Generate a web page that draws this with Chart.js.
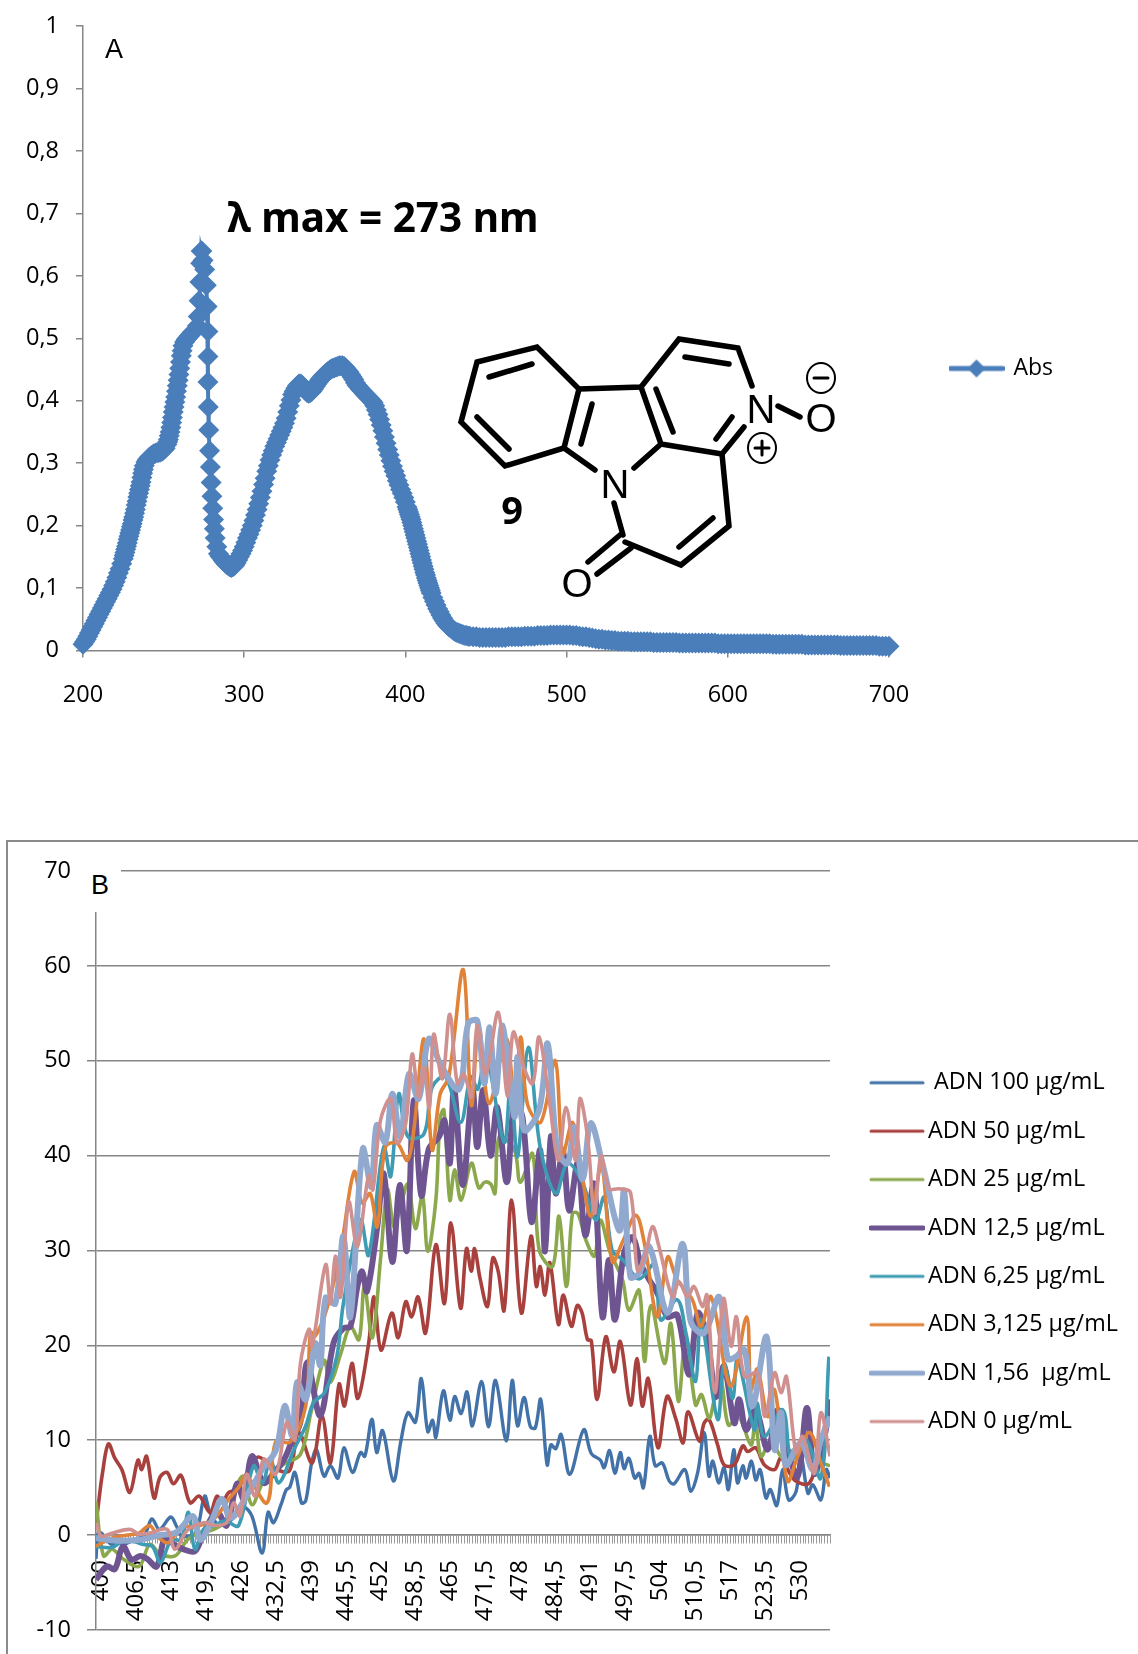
<!DOCTYPE html>
<html>
<head>
<meta charset="utf-8">
<title>Abs / ADN</title>
<script src="https://cdn.jsdelivr.net/npm/chart.js@4"></script>
<style>
  html, body { margin: 0; padding: 0; background: #fff; }
  body { position: relative; width: 1138px; height: 1654px; overflow: hidden; font-family: "Open Sans", sans-serif; }
  canvas { position: absolute; left: 0; }
  #chartA { top: -5.5px; }
  #chartB { top: 790px; }
  #frameB { position: absolute; left: 6px; top: 840px; width: 1200px; height: 900px; border-left: 2px solid #8a8a8a; border-top: 2px solid #8a8a8a; }
  #labelA { position: absolute; left: 105px; top: 34px; font: 27px "Liberation Sans", sans-serif; }
  #labelB { position: absolute; left: 80px; top: 858px; width: 41px; height: 54px; background: #fff; font: 27px "Liberation Sans", sans-serif; line-height: 54px; text-indent: 11px; }
  #molecule { position: absolute; left: 0; top: 0; }
</style>
</head>
<body>
<div id="frameB"></div>
<canvas id="chartA" width="1138" height="790"></canvas>
<canvas id="chartB" width="1138" height="870"></canvas>
<div id="labelA">A</div>
<div id="labelB">B</div>

<svg id="molecule" width="1138" height="790">
  <text x="383" y="232" text-anchor="middle" font-family="Noto Sans" font-weight="700" font-size="40.5">λ max = 273 nm</text>
  <g fill="none" stroke="#000" stroke-width="5.5" stroke-linecap="round" stroke-linejoin="miter">
    <polygon points="477,362 537,347 579,389 564,448 505,466 461,422"/>
    <path d="M489 377L532 364M477 417L509 449M592 404L581 444"/>
    <path d="M579 389L641 387L679 339L738 348L752 386"/>
    <path d="M641 387L661 444L722 454L744 427M656 389L673 432M716 439L732 417M685 357L729 364"/>
    <path d="M564 448L595 470M661 444L634 468M614 503L623 535"/>
    <path d="M722 454L729 526L681 565L625 542M679 547L713 518"/>
    <path d="M620 535L588 562M631 548L597 574M778 406L800 417"/>
    <ellipse cx="821" cy="378" rx="14" ry="15" stroke-width="2"/>
    <ellipse cx="762" cy="448" rx="14" ry="15" stroke-width="2"/>
    <path d="M814 378H828M755 448H769M762 441V455" stroke-width="3"/>
  </g>
  <g font-family="Liberation Sans" font-size="40" text-anchor="middle">
    <text x="615" y="498">N</text>
    <text x="761" y="423">N</text>
    <text x="577" y="597">O</text>
    <text x="821" y="432">O</text>
  </g>
  <text x="512" y="524" text-anchor="middle" font-family="Noto Sans" font-weight="700" font-size="38">9</text>
</svg>

<script>
/* ===== panel A values ===== */
const absNm = [
200,201,202,203,204,205,206,207,208,209,210,211,212,213,214,215,216,217,218,219,220,221,222,223,224,
225,225.5,226,226.5,227,227.5,228,228.5,229,229.5,230,230.5,231,231.5,232,232.5,233,233.5,234,234.5,235,235.5,236,236.5,237,237.5,238,
239,240,241,242,243,244,245,246,247,248,249,250,251,
252,252.5,253,253.5,254,254.5,255,255.5,256,256.5,257,257.5,258,258.5,259,259.5,260,260.5,261,261.5,262,
263,264,265,266,267,268,269,270,271,271.5,272,272.5,273,273.3,273.7,274.5,275.5,276.5,277,277.5,277.5,277.5,277.7,278,278.5,279,279.5,280,280.5,281,281.5,282,283,284,285,286,287,288,289,290,291,
292,293,294,295,296,297,298,299,300,301,302,303,304,305,306,307,308,309,310,311,312,313,314,315,316,317,318,319,320,321,322,323,324,325,326,327,328,329,330,331,332,333,334,335,336,337,338,339,340,341,342,343,344,345,346,347,348,349,350,351,352,353,354,355,356,357,358,359,360,361,362,363,364,365,366,367,368,369,370,371,372,373,374,375,376,377,378,379,380,381,382,383,384,385,386,387,388,389,390,391,392,393,394,395,396,397,398,399,400,
401,401.5,402,402.5,403,403.5,404,404.5,405,405.5,406,406.5,407,407.5,408,408.5,409,409.5,410,410.5,411,411.5,412,412.5,413,413.5,414,414.5,415,415.5,416,
417,418,419,420,421,422,423,424,425,426,427,428,429,430,431,432,433,434,435,436,437,438,439,440,
442,444,446,448,450,452,454,456,458,460,462,464,466,468,470,472,474,476,478,480,482,484,486,488,490,492,494,496,498,500,502,504,506,508,510,512,514,516,518,520,522,524,526,528,530,532,534,536,538,540,
542,544,546,548,550,552,554,556,558,560,562,564,566,568,570,572,574,576,578,580,582,584,586,588,590,592,594,596,598,600,
602,604,606,608,610,612,614,616,618,620,622,624,626,628,630,632,634,636,638,640,642,644,646,648,650,652,654,656,658,660,
662,664,666,668,670,672,674,676,678,680,682,684,686,688,690,692,694,696,698,700];
const absVal = [
.010,.014,.018,.023,.028,.033,.038,.043,.048,.053,.058,.063,.068,.073,.078,.083,.088,.093,.098,.104,.110,.117,.124,.131,.139,
.147,.152,.157,.162,.167,.172,.178,.183,.188,.193,.198,.203,.209,.214,.220,.226,.233,.239,.246,.252,.258,.264,.270,.277,.284,.290,.296,
.302,.306,.309,.311,.313,.315,.316,.317,.317,.318,.319,.321,.324,
.330,.334,.338,.344,.350,.357,.365,.373,.382,.390,.398,.406,.415,.424,.433,.442,.452,.462,.472,.480,.488,
.494,.498,.501,.504,.507,.510,.512,.514,.520,.535,.560,.590,.620,.640,.640,.625,.610,.585,.551,.511,.471,.430,.390,.353,.320,.294,.269,.247,.228,.210,.195,.180,.166,.155,.151,.148,.144,.141,.138,.136,.134,
.133,.134,.136,.140,.145,.150,.155,.160,.166,.173,.180,.186,.193,.200,.208,.217,.226,.235,.245,.255,.266,.276,.287,.296,.305,.313,.320,.327,.333,.339,.345,.351,.357,.364,.372,.382,.392,.401,.410,.415,.420,.424,.427,.427,.425,.420,.416,.413,.412,.413,.415,.419,.423,.427,.430,.434,.437,.440,.442,.445,.447,.449,.451,.452,.453,.454,.455,.456,.456,.456,.455,.452,.449,.446,.442,.438,.434,.429,.425,.422,.419,.416,.413,.410,.408,.405,.403,.400,.397,.392,.385,.378,.370,.361,.352,.342,.332,.322,.313,.304,.295,.287,.280,.272,.265,.258,.252,.245,.238,
.230,.226,.222,.218,.214,.210,.205,.200,.195,.190,.185,.180,.175,.170,.165,.160,.155,.150,.145,.140,.135,.130,.125,.121,.116,.112,.108,.104,.100,.096,.092,
.085,.079,.073,.067,.062,.057,.052,.048,.044,.041,.038,.036,.034,.032,.030,.029,.028,.027,.026,.025,.024,.024,.023,.023,
.022,.022,.021,.021,.021,.021,.021,.021,.021,.021,.021,.022,.022,.022,.022,.022,.023,.023,.023,.023,.024,.024,.024,.024,.025,.025,.025,.025,.025,.025,.025,.024,.024,.023,.022,.022,.021,.020,.019,.018,.018,.017,.017,.016,.016,.015,.015,.015,.015,.014,
.014,.014,.014,.014,.014,.014,.013,.013,.013,.013,.013,.013,.013,.013,.012,.012,.012,.012,.012,.012,.012,.012,.012,.012,.012,.012,.011,.011,.011,.011,
.011,.011,.011,.011,.011,.011,.011,.011,.011,.011,.011,.011,.011,.010,.010,.010,.010,.010,.010,.010,.010,.010,.010,.009,.009,.009,.009,.009,.009,.009,
.009,.009,.009,.009,.008,.008,.008,.008,.008,.008,.008,.008,.008,.008,.008,.008,.007,.007,.007,.007];
const absXTicks = ['200','300','400','500','600','700'];
const absYTicks = ['0','0,1','0,2','0,3','0,4','0,5','0,6','0,7','0,8','0,9','1'];

/* ===== panel B values ===== */
const adnTickLabels = ['400','406,5','413','419,5','426','432,5','439','445,5','452','458,5','465','471,5','478','484,5','491','497,5','504','510,5','517','523,5','530'];
const adnYTicks = ['-10','0','10','20','30','40','50','60','70'];
const adnNames = [' ADN 100 µg/mL','ADN 50 µg/mL','ADN 25 µg/mL','ADN 12,5 µg/mL','ADN 6,25 µg/mL','ADN 3,125 µg/mL','ADN 1,56  µg/mL','ADN 0 µg/mL'];

const adn100Nm = [400,400.4,401,402,403,404,405,407,409,410.4,411.8,413.9,415,416,418.5,420.2,421.2,423,425.6,427.5,429,430.9,432,433,434.4,435.4,436,437,438.2,439,440.1,441,442.4,443.6,445,446.1,447.7,449.2,450,451.3,452.2,453.3,455.3,456.7,458,459.4,460.5,461.7,462.6,463.2,464.6,465.8,466.7,467.9,469,470,471.7,473,474.3,476.3,477.4,478.4,479.6,480.8,481.7,482.7,483.9,484.6,485.5,486.5,488.1,490.7,492.1,493.8,494.5,495.5,496.5,497.5,498.2,499.1,500.2,501,501.8,503,504,505.3,506.6,507.5,509.5,510.6,511.9,513.1,514,514.7,515.8,516.8,517.6,518.6,519.3,520.3,520.9,521.9,522.7,523.5,524.6,525.4,526.6,527.7,528.8,530.2,531.1,532.4,533.3,534.8,535.8,536.5];
const adn100 = [-2.5,.2,.2,-.5,-1,-.5,-1,-.5,0,1.7,.6,1.9,.9,-.1,.2,4.1,2.4,1,1.8,2.9,2,-1.9,2.4,1.3,3.2,4.8,5,6.6,3.4,3.6,7.6,9,6.2,7.3,6,9.2,6.6,8.7,8.3,12.2,8.7,11,5.7,9.9,12.9,11.9,16.5,10.9,12.1,10.3,15.2,12.1,14.6,12.8,15.1,11.5,16.2,11.4,16.3,9.9,16.3,11.5,14.5,11.4,11.3,14.3,7.4,9.5,9.1,10.6,6.4,11.1,8.6,7.9,7.1,8.9,6.5,8.7,7,8.1,6,6.5,5,10.4,7.3,7.6,5.7,5.4,6.9,4.6,6.6,10.8,6.2,7.8,5.5,7.1,4.8,9,5.5,7.3,6,7.8,5.8,6.9,3.9,4.8,3.1,6.9,3.7,4.6,8.3,4.4,5.3,3.7,6.9,6];

const adn50Nm = [400,400.4,401.2,402.3,403.5,404.8,406.3,407.8,408.5,409.4,410.8,411.9,413.2,414.4,415.8,417.5,419.2,421.2,422.5,423.4,424.7,426.2,428,430,432,434,436,437.7,440.2,442,443.6,445.2,446.2,447.6,448.7,450.7,451.7,453,455,456.2,457.6,458.7,459.9,461.3,463.2,464.8,466,467.8,468.9,469.8,470.4,471.4,472.8,473.8,474.8,475.9,477.3,479.1,480.9,481.9,482.6,483.5,484.4,486,486.9,488.4,489.5,490.4,491.4,492.1,493.2,494.8,496.3,497.5,499.4,500.6,501.6,502.7,504.5,506.2,507.8,509.2,510.1,512.2,513.1,514,515.6,516.8,518.7,520.3,521.2,522.7,524.3,526.2,527.4,529.9,532.7,534.8,536.5];
const adn50 = [1,3,6.5,9.6,8.1,6.9,4.5,7.9,6.9,8.3,3.9,6.1,6.6,5.4,6.3,3.4,4.1,2.4,4.1,3.4,4.5,4.8,6.5,8.2,7.6,6.8,6.8,10.8,7.6,12.6,7.6,15.9,13.6,18.1,14.4,20.2,25.1,19.5,23.4,20.8,24.6,23,25.1,21.3,30.6,24.4,32.9,23.9,30.2,27.8,30.2,27.1,24.1,29.2,27.8,23.7,35.3,23.4,31.5,26.2,28.3,25.3,28.7,22.2,25.3,22,24.2,23.4,20.6,20.5,14.3,20.9,17.2,20.4,13.7,18.6,13.6,16.5,9.2,14.6,12.3,9.7,13,9.9,11.8,12.2,9.5,7.4,7.4,9.4,8.8,9.2,7.4,6.9,8.1,5.8,5.5,9.7,14.3];

const adn25Nm = [400,401.4,403,405,408,410,412,414.7,417,419,421.9,424,427.2,429,431,433,435,438,440,442.4,443.6,445.5,447.3,448.9,449.9,451.4,452.9,454.2,455.4,456.5,458,459.4,460.7,461.7,463.2,464,464.7,465.8,466.7,467.9,469.8,471.2,472.3,473.4,474.2,475,477.8,478.9,481.2,482.4,484.9,486.1,487.5,488.6,489.6,491.1,492.7,493.8,495.5,497.9,499.1,501,502,503.2,505.7,506.9,508.3,509.7,511.5,512.6,514,515,516.2,517.6,519.5,521.8,522.6,523.7,525.5,527.7,530,533,536.5];
const adn25 = [3.5,-2.2,-1.5,-2.5,-3.3,-1,-2,-2.2,-.5,.2,.6,1.5,6.2,3.2,5.5,6.5,7.5,8.5,13,18.4,16.1,19.1,22,20.6,26.2,20.8,29,36.4,32.5,34.3,37,32.3,35.8,29.9,35.3,44,44.8,35.3,38.5,35.3,39.2,36.6,37.2,37,36,42,40.6,37.2,40.2,30.1,28.3,33.6,26.2,33.9,33.9,31.1,29.4,33.2,30,26.9,23.7,25.8,18.3,24.2,18.1,22.3,14.1,20.9,13.7,14.8,12.3,14.3,16.5,11.6,12.5,9.5,12,8.3,10,8.1,9,8,7.3];

const adn12Nm = [400,402,403.5,405,406.6,408.2,409.5,411.3,412.9,414.5,416.3,418.4,420,422.5,424.3,426.2,427.5,429,431.2,433,435,436.5,438,439.3,441.7,444.2,446,447.3,448.6,449.5,450.4,452.3,453.5,455.1,456.5,457.8,459.1,460.5,461.9,463.8,464.8,465.8,466.6,468.2,470,470.9,472,473.4,474.6,476.4,477.8,479.3,481,482.6,483.5,484.6,485.5,486.8,488,489.6,491,492.6,494.2,495.4,496.5,498.2,499.8,501.3,502.9,504.4,506.3,508.1,510.3,511.9,513.7,515.3,516.8,518.7,519.6,520.9,522.7,524.9,526.8,528.6,530.5,532.2,533.6,535,536.5];
const adn12 = [-4.7,-3.3,-3.6,-1.2,-2.6,-2.2,-2.5,-3.3,-.1,-1,-1.5,-1.7,.2,2.4,1,5.4,3.8,8.3,5.5,6.5,8,10,11.9,18.2,12.6,20.3,21.8,22,26.2,27.8,25.7,32.5,38.1,28.8,36.9,30,45.8,35.8,40.7,42,43.7,39.2,47.2,36.9,46.9,40.9,46.9,40,45.1,37.2,45.5,44.1,33,40.6,29.9,42,36,40.6,34.2,39.2,31.6,37,23,29,22.7,29.7,31.4,28.6,26.9,25.5,23,23.2,16.9,23.4,20.6,14.6,17.8,11.8,14.3,11.1,13.2,9,13.2,9,6.2,13.4,6.5,9,13.7];

const adn6Nm = [400,403,405.5,408.8,410.5,412,414,415.8,417.2,418.4,420,422,424,426.5,429.3,431,432.4,434,436.8,439,440.5,442.5,444.8,446,449.2,450.7,453.5,454.8,456.3,458,461,462.5,465,467.8,469.7,471,472.5,475.9,477.1,478.4,480.4,482.6,485.5,487.7,490.5,492.9,494.5,496,498,501,504,505,508.1,509.7,511.5,512.5,515.6,516.8,518.4,519.3,522.4,523,524.3,527.7,529.3,532,534.8,536.3];
const adn6 = [-1.2,-1.3,-.5,-1,-1.2,-2.9,-.5,-.5,2.4,-1.5,.6,1,1.5,1,7.3,5.5,8,5.5,9,11.5,14,15,18.9,24.4,33.2,29.5,40.9,37.8,46.5,42,42.3,47.2,48.3,43.5,48.3,47,50.7,41.4,47.6,39.9,51.4,40.9,36,39.2,37.1,33.2,35.6,30,29,27,28.6,22.7,24.8,21.3,16.2,22.7,12.2,18.1,14.4,18.5,11.1,13.9,10.4,13.2,8,10.1,6,18.8];

const adn3Nm = [400,403,406,408,410,411.5,413.5,416,418,421.9,424.7,426.5,428,431.8,433.4,436.1,439,439.9,440.8,443,445.5,448,449.5,451,452.3,453.8,456,457.9,459.1,461,462.5,464,465.6,468.3,469.8,471.2,473.1,476.3,477.8,479,480.2,482.7,485.4,486.8,488.6,490,492,494,496,498,500.4,502,504.4,506.3,508,510.9,512.5,514.4,518,521,521.8,523,524.9,526.2,528.6,530.5,532.7,534.8,536.4];
const adn3 = [-1.2,-.3,0,.2,1,-.2,-.8,1,.8,1.7,3.8,5,6.2,3.4,9.8,9.8,13.6,21.4,21,24,30,38.3,35,36,32.5,40.9,41.3,39.5,42.7,52.3,40.6,46.5,48.3,59.6,45.3,53.5,45.5,52.3,46,52.5,45.5,43.5,50,40.2,43.5,39.5,33.6,39,28.8,31,33.7,30.7,23,29.3,27,24.8,22,25.1,15.7,23,15.3,17.5,12.5,15.3,5.7,8.3,10.8,7.6,5.1];

const adn156Nm = [400,404,408,412,415,418,419.4,421.5,423.4,425,428.4,431,433.5,435.1,436.5,437.4,439,440.8,441.7,442.7,444.5,446,447.3,449.6,451.2,452.2,453.8,455.1,456.6,458.2,460,461.9,464,467.5,469.2,470.9,472.2,473.2,474.3,475.6,477.8,478.4,479.6,482.4,484,485.8,487.7,488.9,490.5,492,494.2,497.3,498.2,499.4,501,502.9,506.3,509.1,510.6,513.1,515.9,517.5,519,520.6,522.1,524.7,526.2,527.4,528.3,531.1,533.3,534.8,536.5];
const adn156 = [-.3,-.6,-.5,0,.3,2,-.5,1.5,3.8,1.8,4.5,7,9,13.6,10.5,16.1,14.3,20.2,17.9,25,24.4,31.5,23,40.7,36.7,43.2,41.4,46.5,42,48.6,46,52.3,49.7,47,53.9,54.2,47.6,53.5,46.5,53.7,44.1,50.4,42.7,44.8,51.8,40.6,39.2,43,37.5,43.4,39.1,32.1,36.3,27.2,27.6,30.4,23.4,30.7,22.5,21.3,25.1,18.6,18.8,19.5,13.6,20.9,9,12.9,7.4,9.7,6.9,10,12.5];

const adn0Nm = [400,401,403,406.3,408,410,413.2,414.7,417,420,422,424.3,425.6,426.8,428,429.6,431.2,433.4,435.5,437,438,439.6,440.2,442.7,443.6,444.5,445.5,447,448.6,450.7,451.5,452.9,454.8,456,457.6,458.8,460,461,462,462.8,464.4,465.8,467.2,468.4,469.8,470.9,472.5,474.8,476.5,477.6,479.3,481.2,482.4,484.3,486,487.4,489.2,490,491.4,492.7,493.9,495.4,497.3,499.4,500.7,502.2,503.5,504.7,507.2,508.4,510,511.2,512.8,513.6,515.1,516.7,518.1,519.1,520.6,523,524.4,526.2,527.4,528.4,530.2,531.4,533.6,534.8,536.5];
const adn0 = [1.3,-.1,.2,.6,.1,.2,.6,-1.5,.5,1.3,1,1.3,3.4,2,6.4,4.1,8,6.4,11.9,10,18,21.7,19.9,28.5,24.4,29.4,25.1,35.1,30.4,37.9,36.4,43.7,46,41.3,43.4,50.7,46.2,49.3,45,52.8,48.1,54.9,47.6,48.6,46.2,53.7,48.6,55.1,46.3,53,49.7,47.6,52.5,45.8,39.5,45.1,39.5,46,42,33.9,40,36.5,36.5,36.1,27.9,29.7,32.5,30.4,25.1,26.7,25.1,26.2,24.1,25.3,15,24.9,19.9,23,16.7,17.1,12.5,17.1,15,16.7,8.7,10.4,6.5,12.9,8.3];

const adnColors = ['#4272A8','#A8403D','#8BA84C','#6E5490','#3D9BB3','#E08238','#92A9CF','#CF908F'];
const adnWidths = [3.4,3.6,3.6,6,3.6,3.6,6,3.6];
const adnLegendWidths = [3,3,3,5,3,3,5,3];

/* ===== helpers ===== */
const pairs = (xs, ys) => xs.map((x, i) => ({x: x, y: ys[i]}));

// legend swatch: line with an optional diamond in the middle
function swatch(color, lineWidth, diamond){
    const c = document.createElement('canvas');
    c.width = 56; c.height = 24;
    const g = c.getContext('2d');
    g.strokeStyle = color; g.fillStyle = color; g.lineWidth = lineWidth; g.lineCap = 'round';
    g.beginPath(); g.moveTo(2, 12); g.lineTo(54, 12); g.stroke();
    if(diamond){
        g.beginPath(); g.moveTo(28, 3); g.lineTo(37, 12); g.lineTo(28, 21); g.lineTo(19, 12); g.closePath(); g.fill();
    }
    return c;
}

// fixes the legend width and moves it to where the reference has it
const legendPlace = {
    id: 'legendPlace',
    beforeLayout(chart, args, opts){
        const legend = chart.legend;
        if(!legend._fixed){
            const fit = legend.fit;
            legend.fit = function(){ fit.call(this); this.width = opts.width; };
            legend._fixed = true;
        }
    },
    afterLayout(chart, args, opts){
        chart.legend.left = opts.left;
        chart.legend.top = opts.top;
    }
};

const axisGrey = '#868686';
const tickFont = {family: '"Open Sans"', size: 23.5};

/* ===== panel A ===== */
new Chart(document.getElementById('chartA'), {
    type: 'scatter',
    plugins: [legendPlace],
    data: {
        datasets: [{
            label: 'Abs',
            data: pairs(absNm, absVal),
            showLine: true,
            clip: false,
            borderColor: '#4A7EBB',
            backgroundColor: '#4A7EBB',
            borderWidth: 4,
            pointStyle: 'rectRot',
            pointRadius: 10.5,
            pointBorderWidth: 0,
            tension: 0
        }]
    },
    options: {
        responsive: false,
        animation: false,
        layout: {padding: {top: 24, left: 0, right: 0, bottom: 0}},
        scales: {
            x: {
                type: 'linear', min: 200, max: 700,
                afterFit: s => { s.height = 134.5; },
                border: {color: axisGrey, width: 1.5},
                grid: {drawOnChartArea: false, color: axisGrey, tickLength: 7, lineWidth: 1.5},
                ticks: {stepSize: 100, padding: 24, color: '#000', font: tickFont, maxRotation: 0, callback: (v, i) => absXTicks[i]}
            },
            y: {
                min: 0, max: 1,
                afterFit: s => { s.width = 83; },
                border: {color: axisGrey, width: 1.5},
                grid: {drawOnChartArea: false, color: axisGrey, tickLength: 7, lineWidth: 1.5},
                ticks: {stepSize: 0.1, padding: 17, color: '#000', font: tickFont, callback: (v, i) => absYTicks[i]}
            }
        },
        plugins: {
            tooltip: {enabled: false},
            legendPlace: {width: 249, left: 925, top: 336},
            legend: {
                position: 'right', align: 'start',
                labels: {
                    usePointStyle: true,
                    pointStyle: swatch('#4A7EBB', 5, true),
                    pointStyleWidth: 51,
                    padding: 26,
                    color: '#000',
                    font: {family: '"Open Sans"', size: 23}
                }
            }
        }
    }
});

/* ===== panel B ===== */
const adnData = [pairs(adn100Nm, adn100), pairs(adn50Nm, adn50), pairs(adn25Nm, adn25), pairs(adn12Nm, adn12),
                 pairs(adn6Nm, adn6), pairs(adn3Nm, adn3), pairs(adn156Nm, adn156), pairs(adn0Nm, adn0)];

new Chart(document.getElementById('chartB'), {
    type: 'line',
    plugins: [legendPlace],
    data: {
        datasets: adnNames.map((name, i) => ({
            label: name,
            data: adnData[i],
            order: -i,                     // last series on top, as in the reference
            borderColor: adnColors[i],
            backgroundColor: adnColors[i],
            borderWidth: adnWidths[i],
            pointRadius: 0,
            tension: 0.35
        }))
    },
    options: {
        responsive: false,
        animation: false,
        layout: {padding: {top: 81, left: 0, right: 0, bottom: 21.5}},
        scales: {
            x: {
                type: 'linear', min: 400, max: 536.5,
                position: {y: 0},
                afterBuildTicks: s => {
                    // one tick mark per 0,5 nm along the zero line
                    const marks = [];
                    for(let i = 0; i <= 273; i++) marks.push({value: 400 + i / 2});
                    s.ticks = marks;
                },
                border: {color: axisGrey, width: 1.5},
                grid: {drawOnChartArea: false, color: '#9a9a9a', tickLength: 8, lineWidth: 1},
                ticks: {autoSkip: false, minRotation: 90, maxRotation: 90, padding: 17, labelOffset: 5, color: '#000', font: {family: '"Open Sans"', size: 24},
                        callback: (v, i) => (i % 13 === 0 ? (adnTickLabels[i / 13] || '') : '')}
            },
            y: {
                min: -10, max: 70,
                afterFit: s => { s.width = 96; },
                border: {color: axisGrey, width: 1.5},
                grid: {color: axisGrey, tickLength: 9, lineWidth: 1.5},
                ticks: {stepSize: 10, padding: 16, color: '#000', font: tickFont, callback: (v, i) => adnYTicks[i]}
            }
        },
        plugins: {
            tooltip: {enabled: false},
            legendPlace: {width: 308, left: 852.5, top: 256},
            legend: {
                position: 'right', align: 'start',
                labels: {
                    usePointStyle: true,
                    pointStyleWidth: 38.7,
                    padding: 25.1,
                    color: '#000',
                    font: {family: '"Open Sans"', size: 23.3},
                    sort: (a, b) => a.datasetIndex - b.datasetIndex,
                    generateLabels: chart => Chart.defaults.plugins.legend.labels.generateLabels(chart).map(item => {
                        item.pointStyle = swatch(adnColors[item.datasetIndex], adnLegendWidths[item.datasetIndex], false);
                        return item;
                    })
                }
            }
        }
    }
});
</script>
</body>
</html>
